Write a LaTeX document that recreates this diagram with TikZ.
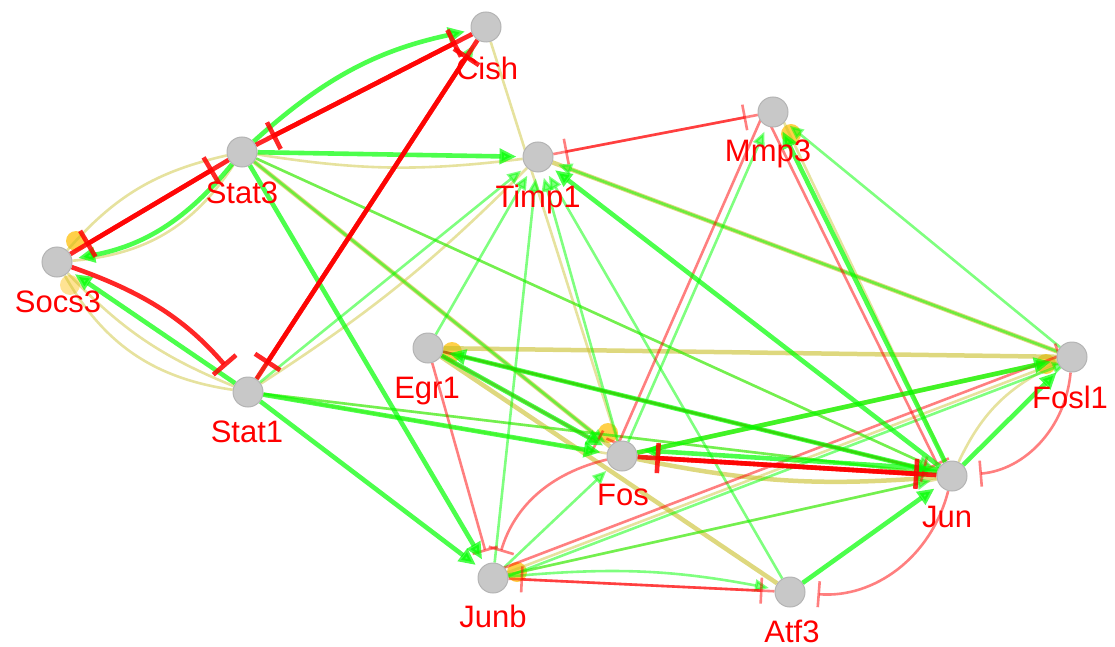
\documentclass[tikz,border=0pt]{standalone}
\usepackage{fontspec}
\setmainfont{Liberation Sans}
\usetikzlibrary{arrows.meta,backgrounds}
\definecolor{grn}{RGB}{0,255,0}
\definecolor{yel}{RGB}{200,190,40}
\definecolor{org}{RGB}{255,200,40}
\definecolor{ndfill}{RGB}{200,200,200}
\definecolor{ndline}{RGB}{180,180,180}
\tikzset{
 gn/.style={circle,fill=ndfill,draw=ndline,line width=1pt,minimum size=30pt,inner sep=0pt},
 lab/.style={text=red,font=\fontsize{31}{31}\selectfont,inner sep=0pt,anchor=base},
 dot/.style={circle,fill=org,minimum size=20pt,inner sep=0pt,opacity=0.85},
 act/.style={draw=grn,line width=2.6pt,opacity=0.5,-{Triangle[length=14pt,width=12pt]},shorten >=6pt},
 actT/.style={draw=grn,line width=4.6pt,opacity=0.7,-{Triangle[length=17pt,width=15pt]},shorten >=6pt},
 inh/.style={draw=red,line width=2.6pt,opacity=0.5,-{Bar[width=26pt]},shorten >=12pt},
 inhT/.style={draw=red,line width=4.6pt,opacity=0.85,-{Bar[width=30pt]},shorten >=18pt},
 yl/.style={draw=yel,line width=2.6pt,opacity=0.45},
 ylT/.style={draw=yel,line width=4.5pt,opacity=0.6},
}
\begin{document}
\begin{tikzpicture}[x=1pt,y=-1pt]
\useasboundingbox (0,0) rectangle (1115,647);
% nodes
\node[gn] (C) at (486,27) {};
\node[gn] (M) at (773,112) {};
\node[gn] (S3) at (242,152) {};
\node[gn] (T) at (538,157) {};
\node[gn] (So) at (57,262) {};
\node[gn] (E) at (428,348) {};
\node[gn] (Fl) at (1072,357) {};
\node[gn] (S1) at (248,392) {};
\node[gn] (F) at (622,456) {};
\node[gn] (J) at (952,476) {};
\node[gn] (Jb) at (493,578) {};
\node[gn] (A) at (790,592) {};
\begin{scope}[on background layer]
% orange self markers
\node[dot] (oSo) at (76,241) {};
\node[dot,opacity=0.5] (oSo2) at (70,285) {};
\node[dot] (oE) at (452,352) {};
\node[dot] (oF) at (608,433) {};
\node[dot] (oFl) at (1046,364) {};
\node[dot] (oM) at (791,134) {};
\node[dot] (oJb) at (517,572) {};
% yellow
\draw[yl] (S3) to[bend right=18] (So);
\draw[yl] (S3) to[bend left=26] (So);
\draw[yl] (So) to[bend right=12] (S1);
\draw[yl] (So) to[bend right=26] (S1);
\draw[yl] (S3) to[bend right=8] (T);
\draw[yl] (S1) to[bend right=6] (T);
\draw[ylT] (S3) -- (F);
\draw[yl] (S3) -- (J);
\draw[yl] (S1) -- (F);
\draw[yl] (S1) -- (J);
\draw[yl] (C) -- (F);
\draw[ylT] (E) -- (Fl);
\draw[ylT] (F) -- (Fl);
\draw[ylT] (T) -- (Fl);
\draw[yl] ([xshift=6pt]M.center) -- (J);
\draw[yl] (J) to[bend left=20] (Fl);
\draw[yl] (Jb) -- (J);
\draw[yl] (E) -- (J);
\draw[ylT] (E) -- (A);
\draw[ylT] (F) to[bend right=8] (J);
\draw[yl] (Jb) -- (Fl);
% green thin
\draw[act] (S3) -- (F);
\draw[act] (S3) -- (J);
\draw[act] (S1) -- (J);
\draw[act] (S1) -- (C);
\draw[act] (S1) -- (T);
\draw[act] (E) -- (T);
\draw[act] (F) -- (T);
\draw[act] (Jb) -- (T);
\draw[act] (A) -- (T);
\draw[act] (Fl) -- (T);
\draw[act] (F) -- (M);
\draw[act] (Fl) -- (M);
\draw[act] (Jb) -- (F);
\draw[act] (Jb) to[bend left=8] (A);
\draw[act] (Jb) -- (J);
\draw[act] ([yshift=-4pt]Jb.center) -- ([yshift=-4pt]Fl.center);
\draw[act] (E) -- (J);
\draw[act] (F) -- (J);
% red thin
\draw[inh] (M) -- (T);
\draw[inh] (T) -- (M);
\draw[inh] ([xshift=-9pt]M.center) -- ([xshift=-9pt]F.center);
\draw[inh] ([xshift=-9pt]M.center) -- ([xshift=-9pt]J.center);
\draw[inh] (E) -- (F);
\draw[inh] (E) -- (Jb);
\draw[inh] (F) to[bend right=30] (Jb);
\draw[inh] ([yshift=6pt]Jb.center) -- ([yshift=6pt]Fl.center);
\draw[inh] (E) -- (J);
\draw[inh] (Fl) to[bend left=40] (J);
\draw[inh] (J) to[bend left=40] (A);
\draw[inh] (Jb) -- (A);
\draw[inh] (A) -- (Jb);
% green thick
\draw[actT] (S3) to[bend left=15] (C);
\draw[actT] (S3) -- (T);
\draw[actT] (S3) to[bend left=20] (So);
\draw[actT] (S1) -- (So);
\draw[actT] (S3) -- (Jb);
\draw[actT] (S1) -- (Jb);
\draw[actT] (S1) -- (F);
\draw[actT] (E) -- (F);
\draw[actT] (J) -- (E);
\draw[actT] ([yshift=6pt]J.center) -- ([yshift=6pt]F.east);
\draw[actT] (F) -- (Fl);
\draw[actT] (J) -- (Fl);
\draw[actT] (J) -- (T);
\draw[actT] (J) -- (M);
\draw[actT] (A) -- (J);
% red thick
\draw[inhT] (S3) -- (C);
\draw[inhT] (C) -- (S3);
\draw[inhT] (S1) -- (C);
\draw[inhT] (C) -- (S1);
\draw[inhT] (S3) -- (So);
\draw[inhT] (So) -- (S3);
\draw[inhT] (So) to[bend left=15] (S1);
\draw[inhT] (J) -- (F);
\draw[inhT] (F) -- (J);
\end{scope}
% labels
\node[lab] (lC) at (487,80) {Cish};
\node[lab] (lM) at (768,162) {Mmp3};
\node[lab] (lS3) at (242,203) {Stat3};
\node[lab] (lT) at (538,207) {Timp1};
\node[lab] (lSo) at (58,312) {Socs3};
\node[lab] (lE) at (427,398) {Egr1};
\node[lab] (lFl) at (1070,408) {Fosl1};
\node[lab] (lS1) at (247,442) {Stat1};
\node[lab] (lF) at (623,505) {Fos};
\node[lab] (lJ) at (947,527) {Jun};
\node[lab] (lJb) at (493,627) {Junb};
\node[lab] (lA) at (792,642) {Atf3};
\end{tikzpicture}
\end{document}
